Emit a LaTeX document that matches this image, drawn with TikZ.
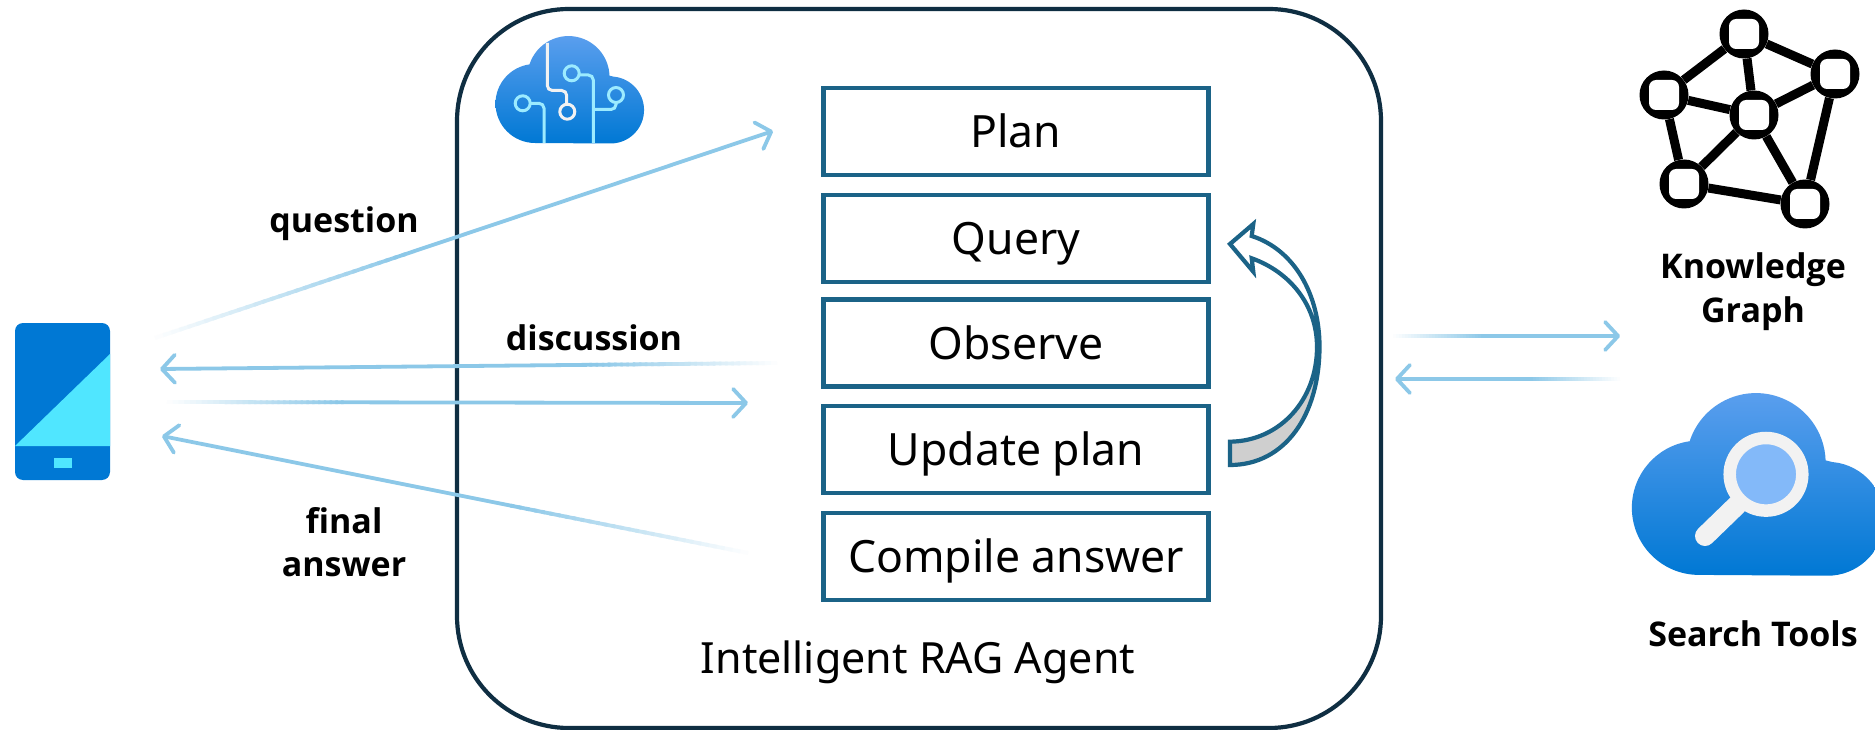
\documentclass[tikz,border=0pt]{standalone}
\usepackage{fontspec}
\setmainfont{Noto Sans}
\newfontfamily\lblfont{Open Sans}
\usetikzlibrary{arrows.meta,calc}
\definecolor{boxblue}{HTML}{1B6387}
\definecolor{navy}{HTML}{0F2E42}
\definecolor{arrowblue}{HTML}{8CC8E8}
\definecolor{phoneblue}{HTML}{0078D4}
\definecolor{cyanlight}{HTML}{50E6FF}
\definecolor{cloudtop}{HTML}{5EA0EF}
\definecolor{circuit}{HTML}{9CEBFF}
\definecolor{iconwhite}{HTML}{F2F2F2}
\definecolor{lens}{HTML}{83B9F9}
\tikzset{
  stepbox/.style={draw=boxblue,line width=4.2pt,fill=white,minimum width=385pt,minimum height=87pt,inner sep=0pt,font=\fontsize{44.5}{44.5}\selectfont,text=black,text height=32pt,text depth=0pt},
  outerbox/.style={draw=navy,line width=4.2pt,rounded corners=112pt},
  flow/.style={line width=3.8pt,draw=arrowblue},
  flowtip/.style={flow,-{Straight Barb[length=13pt,width=28pt,round]},line cap=round},
  lbl/.style={font=\lblfont\bfseries\fontsize{34}{34}\selectfont,text=black,inner sep=0pt},
  gnode/.style={circle,fill=black,minimum size=49pt,inner sep=0pt},
  gedge/.style={line width=9pt,draw=black},
  circ/.style={line width=3pt,draw=circuit,rounded corners=5pt},
  circw/.style={line width=3pt,draw=iconwhite,rounded corners=5pt},
  loopline/.style={line width=4.2pt,draw=boxblue,line join=miter},
}
% fading arrow: #1 faded tail, #2 tip, #3 fraction of the length that fades
\newcommand{\fadearrow}[3]{%
  \foreach \i in {1,...,30}{%
    \pgfmathsetmacro{\ta}{(\i-1)/30*#3}%
    \pgfmathsetmacro{\tb}{(\i+0.4)/30*#3}%
    \pgfmathtruncatemacro{\pc}{\i/30*100}%
    \draw[line width=3.8pt,draw=arrowblue!\pc!white] ($(#1)!\ta!(#2)$) -- ($(#1)!\tb!(#2)$);
  }%
  \draw[flowtip] ($(#1)!#3!(#2)$) -- (#2);
}
\newcommand{\cloudpath}{(40,107) arc[start angle=90,end angle=262,radius=39.5]
  arc[start angle=198,end angle=358,radius=41] -- ++(4,1)
  arc[start angle=275,end angle=450,radius=33.5] -- cycle}
\begin{document}
\begin{tikzpicture}[x=1pt,y=-1pt]
\path[use as bounding box,fill=white] (0,0) rectangle (1875,730);
\clip (0,0) rectangle (1875,730);

% phone
\fill[phoneblue,rounded corners=8pt] (15,323) rectangle (110,480);
\fill[cyanlight] (15,446) -- (110,354) -- (110,446) -- cycle;
\fill[cyanlight] (54,458) rectangle (72,468);

% agent frame
\draw[outerbox] (457,9) rectangle (1381,728);

% agent cloud
\begin{scope}[shift={(495,36)}]
\shade[top color=cloudtop,bottom color=phoneblue] \cloudpath;
\end{scope}
\draw[circw] (547.3,43) -- (547.3,90.5) -- (566.7,90.5) -- (566.7,104);
\draw[line width=3pt,draw=iconwhite] (567.3,111.7) circle[radius=7.5];
\draw[circ] (530.2,103.3) -- (544,103.3) -- (544,143);
\draw[line width=3pt,draw=circuit] (522.7,103.3) circle[radius=7.5];
\draw[circ] (579.2,75) -- (593.3,75) -- (593.3,143);
\draw[line width=3pt,draw=circuit] (571.7,73.3) circle[radius=7.5];
\draw[circ] (616,102.5) -- (616,109.5) -- (594,109.5);
\draw[line width=3pt,draw=circuit] (616,95) circle[radius=7.5];

% steps
\node[stepbox] (plan) at (1016,131.5) {Plan};
\node[stepbox] (query) at (1016,238.5) {Query};
\node[stepbox] (observe) at (1016,343) {Observe};
\node[stepbox] (update) at (1016,449.5) {Update plan};
\node[stepbox] (compile) at (1016,556.5) {Compile answer};
\node[font=\fontsize{43}{43}\selectfont,inner sep=0pt] (agentlabel) at (918,662) {Intelligent RAG Agent};

% loop arrow
\fill[gray!38] (1230,441.7) .. controls (1280,441) and (1317,400) .. (1317,347)
  -- (1319.5,345) .. controls (1320,415) and (1285,465) .. (1230,465) -- cycle;
\draw[loopline] (1317,347) .. controls (1317,400) and (1280,441) .. (1230,441.7)
  -- (1230,465) .. controls (1285,465) and (1320,415) .. (1319.5,345);
\draw[loopline] (1317,347) .. controls (1317,305) and (1290,272) .. (1251.7,258.3)
  -- (1253.3,271.7) -- (1230,244) -- (1253.3,224) -- (1251.7,236)
  .. controls (1295,250) and (1319,295) .. (1319.5,345);

% left flows
\coordinate (qs) at (155,338); \coordinate (qe) at (773,131);
\coordinate (ds) at (777,363); \coordinate (de) at (160,369);
\coordinate (rs) at (167,402); \coordinate (re) at (748,403);
\coordinate (fs) at (748,553); \coordinate (fe) at (162,436);
\fadearrow{qs}{qe}{0.4}
\fadearrow{ds}{de}{0.3}
\fadearrow{rs}{re}{0.3}
\fadearrow{fs}{fe}{0.4}

% right flows
\coordinate (ks) at (1393,336); \coordinate (ke) at (1620,336);
\coordinate (ss) at (1620,379); \coordinate (se) at (1395,379);
\fadearrow{ks}{ke}{0.4}
\fadearrow{ss}{se}{0.4}

% labels
\node[lbl] (lq) at (344,224) {question};
\node[lbl] (ld) at (594,338) {discussion};
\node[lbl] (lf) at (344,521) {final};
\node[lbl] (la) at (344,567) {answer};
\node[lbl] (lk) at (1753,270) {Knowledge};
\node[lbl] (lg) at (1753,314) {Graph};
\node[lbl] (ls) at (1753,634) {Search Tools};

% knowledge graph icon
\node[gnode] (gt) at (1744,34) {};
\node[gnode] (gr) at (1835,74) {};
\node[gnode] (gl) at (1664,95) {};
\node[gnode] (gc) at (1754,115) {};
\node[gnode] (gb) at (1684,184) {};
\node[gnode] (gd) at (1805,204) {};
\foreach \a/\b in {gt/gr,gt/gl,gt/gc,gl/gc,gc/gr,gl/gb,gc/gb,gc/gd,gr/gd,gb/gd}
  \draw[gedge] (\a) -- (\b);
\foreach \n in {gt,gr,gl,gc,gb,gd}
  \fill[white,rounded corners=7pt] ($(\n)+(-15,-15)$) rectangle ($(\n)+(15,15)$);

% search cloud
\begin{scope}[shift={(1631,393)},scale=1.7]
\shade[top color=cloudtop,bottom color=phoneblue] \cloudpath;
\end{scope}
\draw[line width=20pt,line cap=round,draw=iconwhite] (1705,536) -- (1737,505);
\fill[lens] (1766,474.3) circle[radius=36];
\draw[line width=12.5pt,draw=iconwhite] (1766,474.3) circle[radius=36.3];
\end{tikzpicture}
\end{document}
